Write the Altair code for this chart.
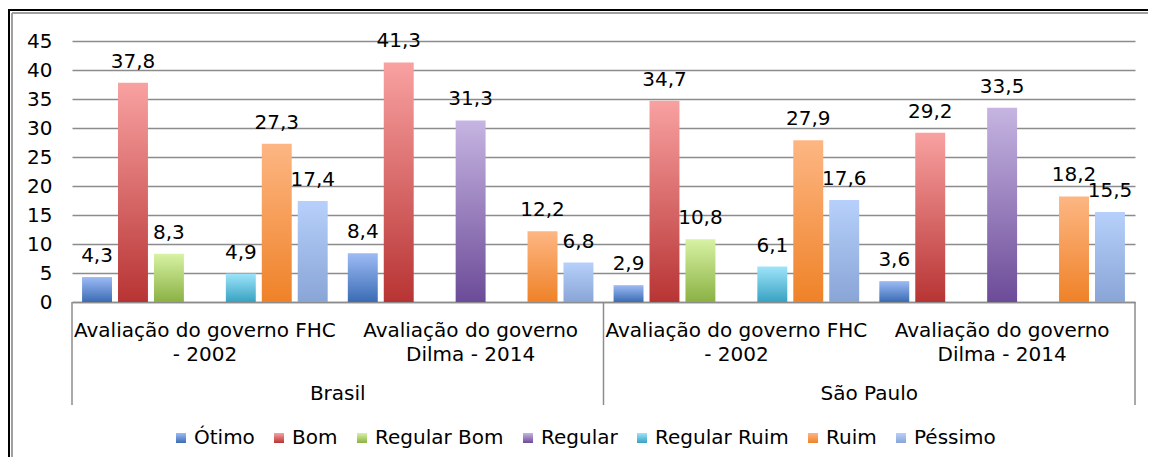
import altair as alt
import pandas as pd

# ---- data ----
series = ["Ótimo", "Bom", "Regular Bom", "Regular", "Regular Ruim", "Ruim", "Péssimo"]
group_keys = ["Brasil|FHC", "Brasil|Dilma", "SP|FHC", "SP|Dilma"]
group_labels = ["Avaliação do governo FHC\n- 2002", "Avaliação do governo\nDilma - 2014",
                "Avaliação do governo FHC\n- 2002", "Avaliação do governo\nDilma - 2014"]
countries = ["Brasil", "São Paulo"]
country_center_key = ["Brasil|Dilma", "SP|Dilma"]
y_ticks = [0, 5, 10, 15, 20, 25, 30, 35, 40, 45]

brasil_fhc = [4.3, 37.8, 8.3, None, 4.9, 27.3, 17.4]
brasil_dilma = [8.4, 41.3, None, 31.3, None, 12.2, 6.8]
sp_fhc = [2.9, 34.7, 10.8, None, 6.1, 27.9, 17.6]
sp_dilma = [3.6, 29.2, None, 33.5, None, 18.2, 15.5]

top_colors = ["#9DBBF5", "#F9A1A1", "#D7F2A3", "#C6B5E2", "#9EE4FA", "#FDB683", "#B7D0FB"]
bottom_colors = ["#3B6CB4", "#B83434", "#8BB144", "#6C4B98", "#38A2C2", "#EF8228", "#89A5D6"]

rows = []
for key, vals in zip(group_keys, [brasil_fhc, brasil_dilma, sp_fhc, sp_dilma]):
    for s, v in zip(series, vals):
        if v is not None:
            rows.append({"key": key, "serie": s, "value": v})
df = pd.DataFrame(rows)
groups_df = pd.DataFrame({"key": group_keys, "label": group_labels})
country_df = pd.DataFrame({"key": country_center_key, "country": countries})
sep_left_df = pd.DataFrame({"key": ["Brasil|FHC", "SP|FHC"]})
sep_right_df = pd.DataFrame({"key": ["SP|Dilma"]})

grad_range = [
    {"expr": "{gradient: 'linear', x1: 0, y1: 0, x2: 0, y2: 1, stops: [{offset: 0, color: '%s'}, {offset: 1, color: '%s'}]}" % (t, b)}
    for t, b in zip(top_colors, bottom_colors)
]

FONT = "DejaVu Sans"
FS = 20
GRID = "#8c8c8c"

xscale = alt.Scale(domain=group_keys, paddingInner=0, paddingOuter=0)
yscale = alt.Scale(domain=[0, 45], nice=False)
xaxis = alt.Axis(labels=False, ticks=False, title=None, domainColor=GRID, domainWidth=1.5)
yaxis = alt.Axis(values=y_ticks, title=None, ticks=False, domain=False,
                 labelPadding=20, labelFontSize=FS, labelColor="black",
                 labelOverlap=False, gridColor=GRID, gridWidth=1.5)
xoff = alt.XOffset("serie:N", sort=series,
                   scale=alt.Scale(domain=series, paddingInner=0.167, paddingOuter=0.28))


def X(**kw):
    return alt.X("key:N", scale=xscale, sort=group_keys, axis=xaxis, **kw)


bars = alt.Chart(df).mark_bar().encode(
    x=X(),
    xOffset=xoff,
    y=alt.Y("value:Q", scale=yscale, axis=yaxis),
    color=alt.Color("serie:N", sort=series,
                    scale=alt.Scale(domain=series, range=grad_range),
                    legend=alt.Legend(orient="none", legendX=99, legendY=387, direction="horizontal",
                                      columns=7, title=None, symbolType="square", symbolSize=100,
                                      symbolStrokeWidth=0, labelFontSize=FS, labelColor="black",
                                      columnPadding=14, labelOffset=3, padding=0)),
)

labels = alt.Chart(df).transform_calculate(
    txt="replace(format(datum.value, '.1f'), '.', ',')"
).mark_text(baseline="alphabetic", dy=-15, fontSize=FS, color="black").encode(
    x=X(),
    xOffset=xoff,
    y=alt.Y("value:Q", scale=yscale, axis=yaxis),
    text="txt:N",
)

group_text = alt.Chart(groups_df).mark_text(
    baseline="alphabetic", lineBreak="\n", lineHeight=24, fontSize=FS, color="black"
).encode(
    x=X(),
    y=alt.value(296),
    text="label:N",
)

country_text = alt.Chart(country_df).mark_text(
    baseline="alphabetic", fontSize=FS, color="black"
).encode(
    x=X(bandPosition=0),
    y=alt.value(359),
    text="country:N",
)

sep_left = alt.Chart(sep_left_df).mark_rule(color=GRID, strokeWidth=1.5).encode(
    x=X(bandPosition=0),
    y=alt.value(261), y2=alt.value(364),
)
sep_right = alt.Chart(sep_right_df).mark_rule(color=GRID, strokeWidth=1.5).encode(
    x=X(bandPosition=1),
    y=alt.value(261), y2=alt.value(364),
)

# outer frame (decoration)
frame_black_left = alt.Chart(country_df).mark_rule(color="black", strokeWidth=2).encode(
    x=alt.value(-63), y=alt.value(-32), y2=alt.value(430))
frame_black_top = alt.Chart(country_df).mark_rule(color="black", strokeWidth=2).encode(
    x=alt.value(-64), x2=alt.value(1076), y=alt.value(-31))
frame_gray_left = alt.Chart(country_df).mark_rule(color="#9a9a9a", strokeWidth=1.5).encode(
    x=alt.value(-60), y=alt.value(-28), y2=alt.value(430))
frame_gray_top = alt.Chart(country_df).mark_rule(color="#9a9a9a", strokeWidth=1.5).encode(
    x=alt.value(-60), x2=alt.value(1076), y=alt.value(-28))

chart = alt.layer(
    bars, labels, group_text, country_text, sep_left, sep_right,
    frame_black_left, frame_black_top, frame_gray_left, frame_gray_top
).properties(
    width=1063, height=261,
    padding={"left": 64, "top": 33, "right": 13, "bottom": 155},
    autosize=alt.AutoSizeParams(type="none"),
).configure(font=FONT).configure_view(stroke=None)

chart.save("out.html", embed_options={"renderer": "svg", "actions": False})
